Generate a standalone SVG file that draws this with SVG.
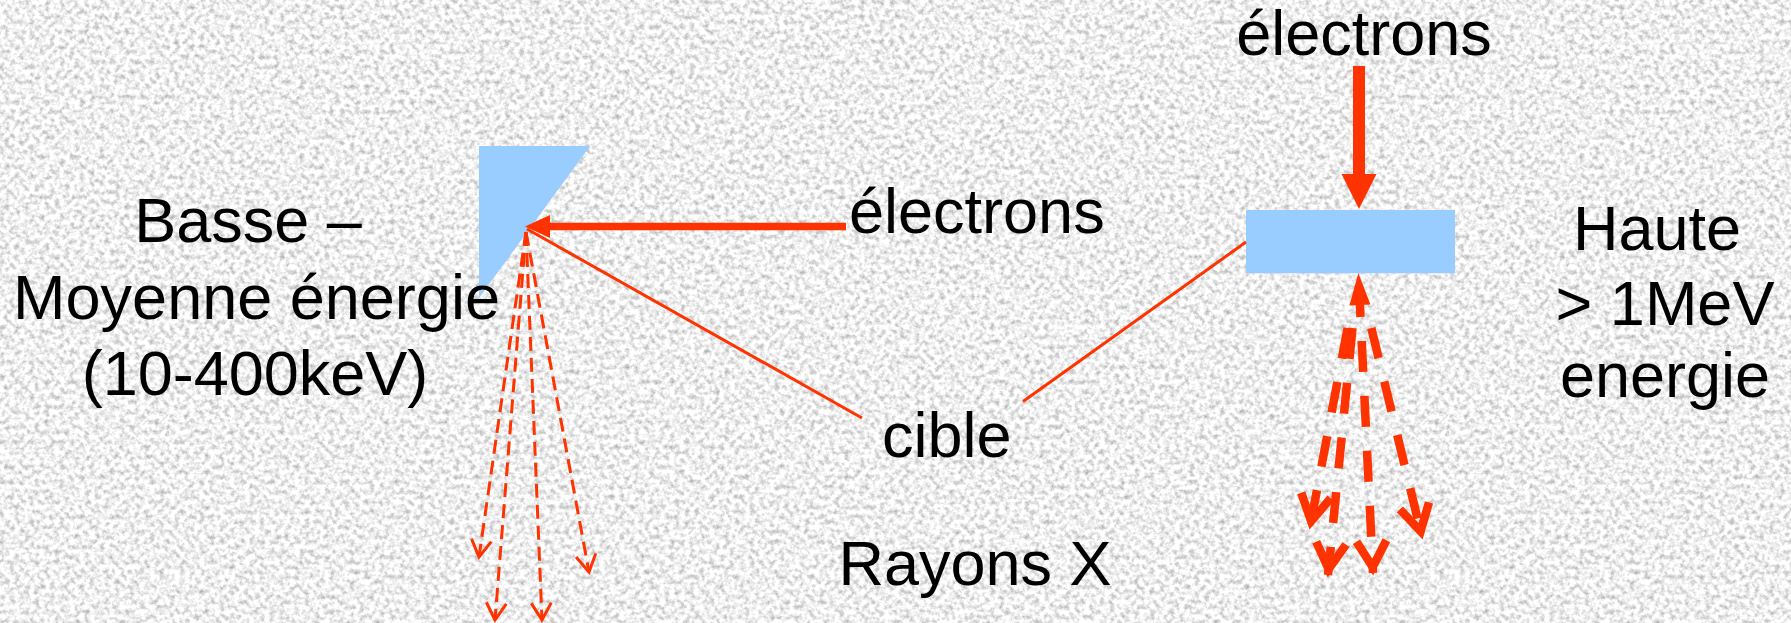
<svg xmlns="http://www.w3.org/2000/svg" width="1791" height="623" viewBox="0 0 1791 623">
  <style>
    .lbl { font-family: "Liberation Sans", Arial, sans-serif; font-size: 63px; fill: #000; }
    .mid { text-anchor: middle; }
    .target { fill: #99ccff; stroke: none; }
    .beam { stroke: #ff3300; fill: none; stroke-linecap: butt; }
    .thin { stroke: #ff3300; stroke-width: 3; fill: none; }
    .xsoft { stroke: #ff3300; stroke-width: 3; fill: none; stroke-dasharray: 14 7; }
    .xhard { stroke: #ff3300; stroke-width: 8.5; fill: none; stroke-dasharray: 31 24; }
  </style>
  <defs>
    <filter id="grain" x="0" y="0" width="1791" height="623" filterUnits="userSpaceOnUse" color-interpolation-filters="sRGB">
      <feTurbulence type="fractalNoise" baseFrequency="0.2" numOctaves="3" seed="7" result="n"/>
      <feColorMatrix in="n" type="matrix" values="0.62 0 0 0 0.63  0.62 0 0 0 0.63  0.62 0 0 0 0.63  0 0 0 0 1"/>
    </filter>
    <!-- filled head for the electron beams -->
    <marker id="headH" markerUnits="userSpaceOnUse" viewBox="-10 -15 35 30" markerWidth="35" markerHeight="30" refX="0" refY="0" orient="auto">
      <path d="M20,0 L-5,-11.5 L-5,11.5 Z" fill="#ff3300"/>
    </marker>
    <marker id="headV" markerUnits="userSpaceOnUse" viewBox="-10 -20 45 40" markerWidth="45" markerHeight="40" refX="0" refY="0" orient="auto">
      <path d="M29,0 L-6,-17.5 L-6,17.5 Z" fill="#ff3300"/>
    </marker>
    <!-- reversed filled head at the start of the central high-energy ray -->
    <marker id="headBack" markerUnits="userSpaceOnUse" viewBox="-25 -15 45 30" markerWidth="45" markerHeight="30" refX="0" refY="0" orient="auto-start-reverse">
      <path d="M13,0 L-19,-10.5 L-19,10.5 Z" fill="#ff3300"/>
    </marker>
    <!-- open chevrons for the X-ray beams -->
    <marker id="chevThin" markerUnits="userSpaceOnUse" viewBox="-25 -15 30 30" markerWidth="30" markerHeight="30" refX="0" refY="0" orient="auto">
      <path d="M-17,-10 L0,0 L-17,10" fill="none" stroke="#ff3300" stroke-width="3"/>
    </marker>
    <marker id="chevThick" markerUnits="userSpaceOnUse" viewBox="-40 -25 50 50" markerWidth="50" markerHeight="50" refX="0" refY="0" orient="auto">
      <path d="M-32,-15 L-6,0 L-32,15" fill="none" stroke="#ff3300" stroke-width="8.5" stroke-linejoin="miter"/>
    </marker>
  </defs>

  <!-- textured backdrop -->
  <rect x="0" y="0" width="1791" height="623" fill="#ececec" filter="url(#grain)"/>

  <!-- low / medium energy target (angled anode) -->
  <g id="target-low">
    <polygon class="target" points="479,146 590,146 479,298"/>
  </g>

  <!-- high energy target (transmission) -->
  <g id="target-high">
    <rect class="target" x="1246" y="210" width="209" height="63.3"/>
  </g>

  <g id="connectors">
    <!-- electron beams -->
    <line class="beam" x1="846" y1="226.5" x2="545" y2="226.5" stroke-width="7.5" marker-end="url(#headH)"/>
    <line class="beam" x1="1359" y1="66" x2="1359" y2="180" stroke-width="12" marker-end="url(#headV)"/>

    <!-- pointers from the "cible" label -->
    <line class="thin" x1="527" y1="229" x2="862" y2="418"/>
    <line class="thin" x1="1023" y1="401.5" x2="1246" y2="242"/>

    <!-- X-rays, low / medium energy -->
    <line class="xsoft" x1="526" y1="232" x2="479" y2="557" marker-end="url(#chevThin)"/>
    <line class="xsoft" x1="526" y1="232" x2="495" y2="620" marker-end="url(#chevThin)"/>
    <line class="xsoft" x1="526" y1="232" x2="542" y2="620" marker-end="url(#chevThin)"/>
    <line class="xsoft" x1="526" y1="232" x2="589" y2="572" marker-end="url(#chevThin)"/>

    <!-- X-rays, high energy -->
    <line class="xhard" x1="1359" y1="286" x2="1373" y2="573" marker-start="url(#headBack)" marker-end="url(#chevThick)"/>
    <line class="xhard" x1="1347.6" y1="328" x2="1310" y2="527" marker-end="url(#chevThick)"/>
    <line class="xhard" x1="1352.5" y1="328" x2="1328" y2="575" marker-end="url(#chevThick)"/>
    <line class="xhard" x1="1371.3" y1="328" x2="1422" y2="537" marker-end="url(#chevThick)"/>
  </g>

  <g id="label-low">
    <text class="lbl mid" x="248" y="242">Basse –</text>
    <text class="lbl mid" x="256.5" y="318.5">Moyenne énergie</text>
    <text class="lbl mid" x="255" y="395">(10-400keV)</text>
  </g>

  <g id="label-high">
    <text class="lbl mid" x="1657" y="249.5">Haute</text>
    <text class="lbl mid" x="1665" y="325">&gt; 1MeV</text>
    <text class="lbl mid" x="1665" y="397">energie</text>
  </g>

  <g id="label-electrons-top">
    <text class="lbl mid" x="1364" y="55">électrons</text>
  </g>
  <g id="label-electrons-side">
    <text class="lbl" x="849" y="233">électrons</text>
  </g>
  <g id="label-cible">
    <text class="lbl" x="882" y="457">cible</text>
  </g>
  <g id="label-rayons">
    <text class="lbl mid" x="975" y="585">Rayons X</text>
  </g>
</svg>
